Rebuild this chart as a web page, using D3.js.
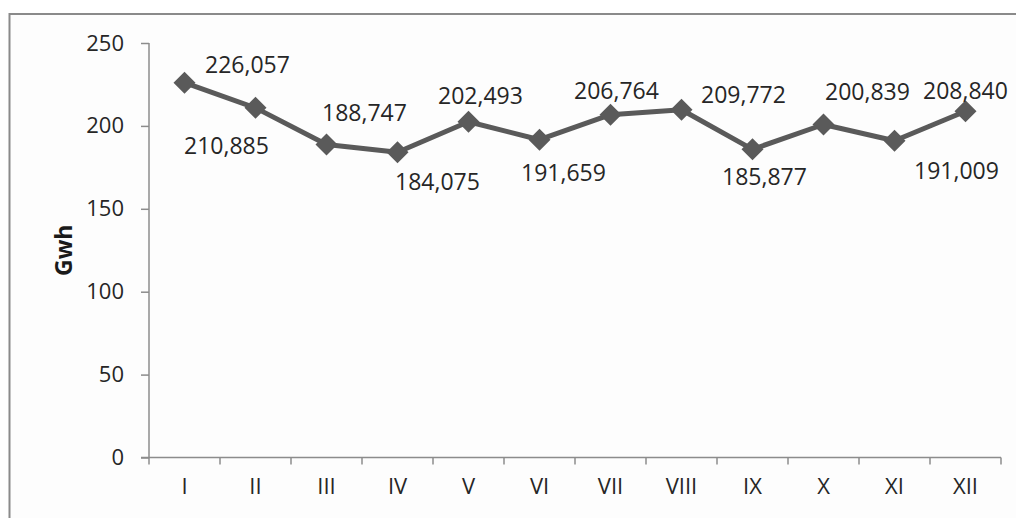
<!DOCTYPE html>
<html>
<head>
<meta charset="utf-8">
<script src="https://cdn.jsdelivr.net/npm/d3@7"></script>
<style>
  html, body { margin: 0; padding: 0; background: #ffffff; }
  svg { display: block; }
  text { font-family: "Open Sans", "Noto Sans", sans-serif; }
</style>
</head>
<body>
<svg id="chart" width="1016" height="518"></svg>
<script>
// Monthly production, Gwh
const months = ["I", "II", "III", "IV", "V", "VI", "VII", "VIII", "IX", "X", "XI", "XII"];
const gwh = [226.057, 210.885, 188.747, 184.075, 202.493, 191.659, 206.764, 209.772, 185.877, 200.839, 191.009, 208.840];
const yTicks = [0, 50, 100, 150, 200, 250];

// Hand placement of each value label relative to its point (px)
const labelOffsets = [
  [63, -19], [-29, 37], [38, -33], [40, 29], [12, -27], [24, 32],
  [6, -25], [62, -16], [12, 27], [44, -34], [62, 29], [0, -21]
];

const svg = d3.select("#chart");
const plot = { left: 149, right: 1001, top: 43, bottom: 457.5 };

// outer frame (runs past the right and bottom edges)
svg.append("rect")
  .attr("x", 9.5).attr("y", 14).attr("width", 1040).attr("height", 540)
  .attr("fill", "#fdfdfd").attr("stroke", "#8a8a8a").attr("stroke-width", 2);

const x = d3.scaleBand().domain(months).range([plot.left, plot.right]);
const y = d3.scaleLinear().domain([0, 250]).range([plot.bottom, plot.top]);

const fmt = v => d3.format(".3f")(v).replace(".", ",");

// y axis
const yAxis = svg.append("g")
  .attr("transform", `translate(${plot.left},0)`)
  .call(d3.axisLeft(y).tickValues(yTicks).tickSize(8).tickPadding(17).tickFormat(d3.format("d")));
yAxis.select(".domain").attr("stroke", "#8c8c8c").attr("stroke-width", 1.5)
  .attr("d", `M0,${plot.top}V${plot.bottom}`);
yAxis.selectAll(".tick line").attr("stroke", "#8c8c8c").attr("stroke-width", 1.5);
yAxis.selectAll(".tick text").attr("font-size", 22).attr("fill", "#262626")
  .attr("font-family", "'Open Sans', sans-serif");

// x axis: labels centred in bands, tick marks on band edges
const xAxis = svg.append("g")
  .attr("transform", `translate(0,${plot.bottom})`)
  .call(d3.axisBottom(x).tickSize(0).tickPadding(21));
xAxis.select(".domain").attr("stroke", "#8c8c8c").attr("stroke-width", 1.5)
  .attr("d", `M${plot.left - 8},0H${plot.right}`);
xAxis.selectAll(".tick text").attr("font-size", 22).attr("fill", "#262626")
  .attr("font-family", "'Open Sans', sans-serif");
const edges = months.map(m => x(m)).concat([x.range()[1]]);
xAxis.selectAll(".edge").data(edges).enter().append("line")
  .attr("x1", d => d).attr("x2", d => d).attr("y1", 0).attr("y2", 7)
  .attr("stroke", "#8c8c8c").attr("stroke-width", 1.5);

// y axis title
svg.append("text")
  .attr("transform", `translate(72,${(plot.top + plot.bottom) / 2}) rotate(-90)`)
  .attr("text-anchor", "middle")
  .attr("font-size", 23).attr("font-weight", "bold").attr("fill", "#1a1a1a")
  .text("Gwh");

const cx = (d, i) => x(months[i]) + x.bandwidth() / 2;

// series line
const line = d3.line().x((d, i) => cx(d, i)).y(d => y(d));
svg.append("path").datum(gwh)
  .attr("d", line).attr("fill", "none")
  .attr("stroke", "#5a5a5a").attr("stroke-width", 5).attr("stroke-linejoin", "round");

// diamond markers
const r = 11;
svg.selectAll(".marker").data(gwh).enter().append("path")
  .attr("d", (d, i) => {
    const px = cx(d, i), py = y(d);
    return `M${px},${py - r}L${px + r},${py}L${px},${py + r}L${px - r},${py}Z`;
  })
  .attr("fill", "#5a5a5a");

// value labels
svg.selectAll(".val").data(gwh).enter().append("text")
  .attr("x", (d, i) => cx(d, i) + labelOffsets[i][0])
  .attr("y", (d, i) => y(d) + labelOffsets[i][1])
  .attr("text-anchor", "middle").attr("dominant-baseline", "central")
  .attr("font-size", 23).attr("fill", "#262626")
  .text(d => fmt(d));
</script>
</body>
</html>
